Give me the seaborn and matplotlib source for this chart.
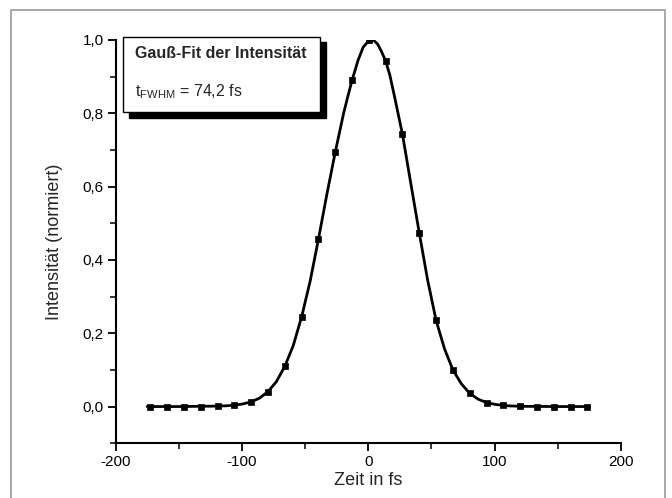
import pandas as pd
import matplotlib
matplotlib.use("Agg")
import matplotlib.pyplot as plt
from matplotlib.patches import Rectangle
import seaborn as sns

# Messpunkte
zeit_fs = [-172.4, -159.1, -145.8, -132.5, -119.2, -105.9, -92.6, -79.3, -66.0,
           -52.7, -39.4, -26.1, -12.8, 0.5, 13.8, 27.1, 40.4, 53.7, 67.0, 80.3,
           93.6, 106.9, 120.2, 133.5, 146.8, 160.1, 173.4]
intensitaet = [0.0, 0.0, 0.0, 0.0, 0.001, 0.004, 0.013, 0.041, 0.110,
               0.245, 0.457, 0.694, 0.890, 1.000, 0.942, 0.742, 0.473, 0.235,
               0.100, 0.036, 0.011, 0.003, 0.001, 0.0, 0.0, 0.0, 0.0]

# Gauss-Fit Kurve (dichter)
fit_zeit = [-175, -150, -125, -112.5, -105.9, -99.3, -92.6, -86.0, -79.3, -72.7,
            -66.0, -59.4, -52.7, -46.0, -39.4, -32.8, -26.1, -19.5, -16.0, -12.8,
            -8.0, -4.0, 0.5, 4.0, 7.5, 10.5, 13.8, 17.0, 20.5, 27.1, 33.8, 40.4,
            47.0, 53.7, 60.4, 67.0, 73.7, 80.3, 87.0, 93.6, 100.3, 106.9, 113.5,
            125, 150, 175]
fit_int = [0.0, 0.0, 0.001, 0.002, 0.004, 0.007, 0.013, 0.023, 0.041, 0.068,
           0.110, 0.166, 0.245, 0.342, 0.457, 0.578, 0.694, 0.800, 0.848, 0.890,
           0.945, 0.980, 0.998, 1.000, 0.988, 0.968, 0.942, 0.905, 0.850, 0.742,
           0.606, 0.473, 0.345, 0.235, 0.157, 0.100, 0.062, 0.036, 0.020, 0.011,
           0.006, 0.003, 0.0015, 0.0005, 0.0, 0.0]

x_ticks = [-200, -100, 0, 100, 200]
x_ticklabels = ["-200", "-100", "0", "100", "200"]
y_ticks = [0.0, 0.2, 0.4, 0.6, 0.8, 1.0]
y_ticklabels = ["0,0", "0,2", "0,4", "0,6", "0,8", "1,0"]

df = pd.DataFrame({"Zeit": zeit_fs, "Intensitaet": intensitaet})
df_fit = pd.DataFrame({"Zeit": fit_zeit, "Intensitaet": fit_int})

sns.set_style("ticks")
plt.rcParams["font.family"] = ["Liberation Sans", "DejaVu Sans"]
plt.rcParams["mathtext.fontset"] = "custom"
plt.rcParams["mathtext.rm"] = "Liberation Sans"

fig = plt.figure(figsize=(6.72, 4.98), dpi=100)
ax = fig.add_axes([0.172, 0.110, 0.752, 0.810])

sns.lineplot(data=df_fit, x="Zeit", y="Intensitaet", ax=ax, color="black",
             linewidth=2.0, sort=True)
sns.scatterplot(data=df, x="Zeit", y="Intensitaet", ax=ax, color="black",
                marker="s", s=14, edgecolor="black", linewidth=0.5, zorder=3)

ax.set_xlim(-200, 200)
ax.set_ylim(-0.1, 1.0)
ax.set_xticks(x_ticks)
ax.set_xticklabels(x_ticklabels)
ax.set_yticks(y_ticks)
ax.set_yticklabels(y_ticklabels)
ax.set_xticks([-150, -50, 50, 150], minor=True)
ax.set_yticks([-0.1, 0.1, 0.3, 0.5, 0.7, 0.9], minor=True)
ax.tick_params(which="major", direction="out", length=6, width=1.3, labelsize=11,
               colors="black", pad=2.5)
ax.tick_params(which="minor", direction="out", length=4, width=1.3)
sns.despine(ax=ax)
for s in ["left", "bottom"]:
    ax.spines[s].set_linewidth(1.5)
    ax.spines[s].set_color("black")

ax.set_xlabel("Zeit in fs", fontsize=13, labelpad=2)
ax.set_ylabel("Intensität (normiert)", fontsize=13, labelpad=14)

# Textkasten mit Schatten
ax.add_patch(Rectangle((-189.5, 0.786), 155.7, 0.207, transform=ax.transData,
                       facecolor="black", edgecolor="black", clip_on=False, zorder=4))
ax.add_patch(Rectangle((-193.8, 0.803), 155.7, 0.204, transform=ax.transData,
                       facecolor="white", edgecolor="black", linewidth=1.0,
                       clip_on=False, zorder=5))
ax.text(-184.5, 0.962, "Gauß-Fit der Intensität", fontsize=11.5, fontweight="bold",
        va="center", ha="left", zorder=6)
ax.text(-184.5, 0.858, r"t$_{\mathrm{FWHM}}$ = 74,2 fs", fontsize=11.5,
        va="center", ha="left", zorder=6)

# Rahmen um die Abbildung (unten abgeschnitten)
fig.patches.append(Rectangle((11 / 672, -0.05), 654 / 672, 1.05 - 10 / 498,
                             transform=fig.transFigure, fill=False,
                             edgecolor="#9a9a9a", linewidth=1.2))

fig.savefig("out.png", dpi=100)
